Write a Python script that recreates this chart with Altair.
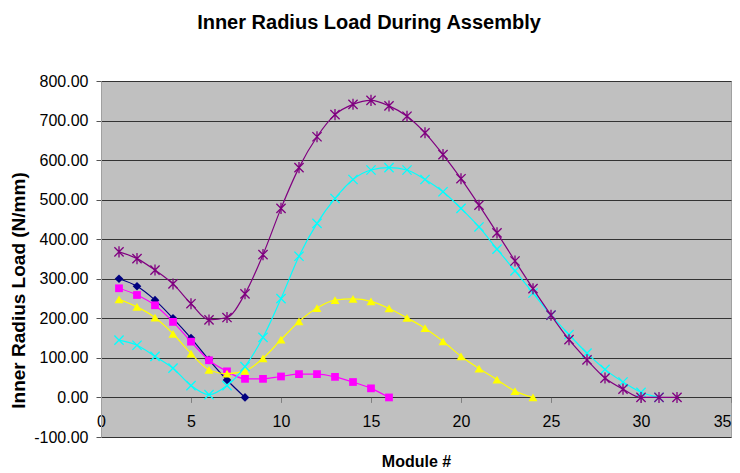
import altair as alt
import pandas as pd

# ---- data ----
navy_x = list(range(1, 9))
navy_y = [300, 281, 246, 200, 150, 95, 44, 0]

magenta_x = list(range(1, 17))
magenta_y = [276, 259, 233, 191, 141, 94, 66, 47, 47, 53, 59, 59, 52, 39, 23, 0]

yellow_x = list(range(1, 25))
yellow_y = [248, 229, 202, 161, 111, 70, 60, 67, 99, 146, 192, 226, 246, 249,
            243, 225, 201, 175, 142, 104, 73, 45, 16, 0]

cyan_x = list(range(1, 32))
cyan_y = [145, 132, 104, 74, 30, 7, 30, 78, 152, 250, 357, 440, 503, 551, 575,
          581, 575, 551, 520, 478, 431, 375, 320, 264, 208, 159, 112, 71, 39, 13, 0]

purple_x = list(range(1, 33))
purple_y = [368, 351, 322, 287, 237, 196, 202, 262, 361, 478, 581, 659, 715, 741,
            751, 737, 711, 669, 614, 553, 486, 416, 345, 275, 208, 146, 95, 49,
            21, 0, 0, 0]

series = [
    ("S1", navy_x, navy_y, "#000080", "diamond", True, 75),
    ("S2", magenta_x, magenta_y, "#ff00ff", "square", True, 60),
    ("S3", yellow_x, yellow_y, "#ffff00", "triangle-up", True, 80),
    ("S4", cyan_x, cyan_y, "#00ffff", "M-1,-1L1,1M-1,1L1,-1", False, 85),
    ("S5", purple_x, purple_y, "#800080", "M-1,-1L1,1M-1,1L1,-1M0,-1.2L0,1.2", False, 85),
]

FONT = "Liberation Sans"

x_scale = alt.Scale(domain=[0, 35], nice=False, zero=False)
y_scale = alt.Scale(domain=[-100, 800], nice=False, zero=False)

x_axis = alt.Axis(
    title="Module #", values=list(range(0, 36, 5)), grid=False,
    offset=-39.6, domain=False, tickColor="#808080", tickSize=5,
    labelPadding=11, labelFont=FONT, labelFontSize=16, labelColor="black",
    labelAlign={"condition": {"test": "datum.value >= 35", "value": "right"}, "value": "center"},
    titleFont=FONT, titleFontSize=16, titleFontWeight="bold", titleColor="black",
    titleY=64, titleBaseline="middle", labelFlush=False,
)
y_axis = alt.Axis(
    title="Inner Radius Load (N/mm)", values=list(range(-100, 801, 100)),
    grid=True, gridColor="#333333", gridWidth=1, gridOpacity=1,
    domainColor="#a0a0a0", tickColor="#555555", tickSize=5, labelPadding=8,
    labelExpr="datum.value < 0 ? '-' + format(-datum.value, '.2f') : format(datum.value, '.2f')",
    labelFont=FONT, labelFontSize=16, labelColor="black",
    titleFont=FONT, titleFontSize=19, titleFontWeight="bold", titleColor="black",
    titleX=-83, titleY=209, titleBaseline="middle", titleAngle=-90,
)

layers = []
for i, (name, xs, ys, color, shape, filled, size) in enumerate(series):
    df = pd.DataFrame({"x": xs, "y": ys})
    enc = dict(x=alt.X("x:Q", scale=x_scale, axis=x_axis),
               y=alt.Y("y:Q", scale=y_scale, axis=y_axis))
    line = alt.Chart(df).mark_line(color=color, strokeWidth=1.2, interpolate="monotone").encode(**enc)
    if filled:
        pt = alt.Chart(df).mark_point(shape=shape, filled=True, color=color, size=size,
                                      opacity=1).encode(**enc)
    else:
        pt = alt.Chart(df).mark_point(shape=shape, filled=False, color=color, size=size,
                                      strokeWidth=1.3, opacity=1).encode(**enc)
    layers += [line, pt]

chart = alt.layer(*layers).properties(
    width=630, height=356, background="white",
    title=alt.TitleParams("Inner Radius Load During Assembly", font=FONT, fontSize=20,
                          fontWeight="bold", color="black", anchor="middle", dx=-47, offset=40),
    padding={"left": 93, "top": 73, "right": 1, "bottom": 33},
    autosize=alt.AutoSizeParams(type="none"),
).configure_view(fill="#c0c0c0", stroke="#a0a0a0")

chart.save("out.html", embed_options={"renderer": "svg", "actions": False})
